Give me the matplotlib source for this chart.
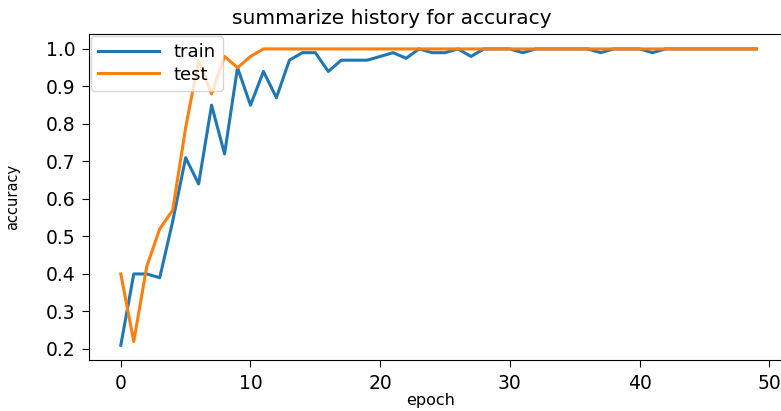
import matplotlib
matplotlib.use("Agg")
import matplotlib.pyplot as plt

# accuracy per epoch from model training history
train_acc = [0.21, 0.40, 0.40, 0.39, 0.54, 0.71, 0.64, 0.85, 0.72, 0.95,
             0.85, 0.94, 0.87, 0.97, 0.99, 0.99, 0.94, 0.97, 0.97, 0.97,
             0.98, 0.99, 0.975, 1.0, 0.99, 0.99, 1.0, 0.98, 1.0, 1.0,
             1.0, 0.99, 1.0, 1.0, 1.0, 1.0, 1.0, 0.99, 1.0, 1.0,
             1.0, 0.99, 1.0, 1.0, 1.0, 1.0, 1.0, 1.0, 1.0, 1.0]
test_acc = [0.40, 0.22, 0.42, 0.52, 0.57, 0.79, 0.97, 0.88, 0.98, 0.95,
            0.98, 1.0, 1.0, 1.0, 1.0, 1.0, 1.0, 1.0, 1.0, 1.0,
            1.0, 1.0, 1.0, 1.0, 1.0, 1.0, 1.0, 1.0, 1.0, 1.0,
            1.0, 1.0, 1.0, 1.0, 1.0, 1.0, 1.0, 1.0, 1.0, 1.0,
            1.0, 1.0, 1.0, 1.0, 1.0, 1.0, 1.0, 1.0, 1.0, 1.0]

x_ticks = [0, 10, 20, 30, 40, 50]
y_ticks = [0.2, 0.3, 0.4, 0.5, 0.6, 0.7, 0.8, 0.9, 1.0]

fig = plt.figure(figsize=(7.81, 4.11), dpi=100)
ax = fig.add_axes([0.114, 0.124, 0.895, 0.793])

ax.plot(train_acc, lw=2.2, color="tab:blue")
ax.plot(test_acc, lw=2.2, color="tab:orange")

ax.set_title("summarize history for accuracy", fontsize=14.5, pad=7, x=0.433)
ax.set_ylabel("accuracy", fontsize=10.5, labelpad=18)
ax.set_xlabel("epoch", fontsize=11.5)
ax.xaxis.set_label_coords(0.488, -0.1)
ax.tick_params(labelsize=13.5, length=5, pad=5)
ax.set_xticks(x_ticks)
ax.set_yticks(y_ticks)
ax.legend(["train", "test"], loc="upper left", fontsize=13,
          handlelength=3.4, borderaxespad=0.1, labelspacing=0.25)

fig.savefig("out.png", dpi=100)
